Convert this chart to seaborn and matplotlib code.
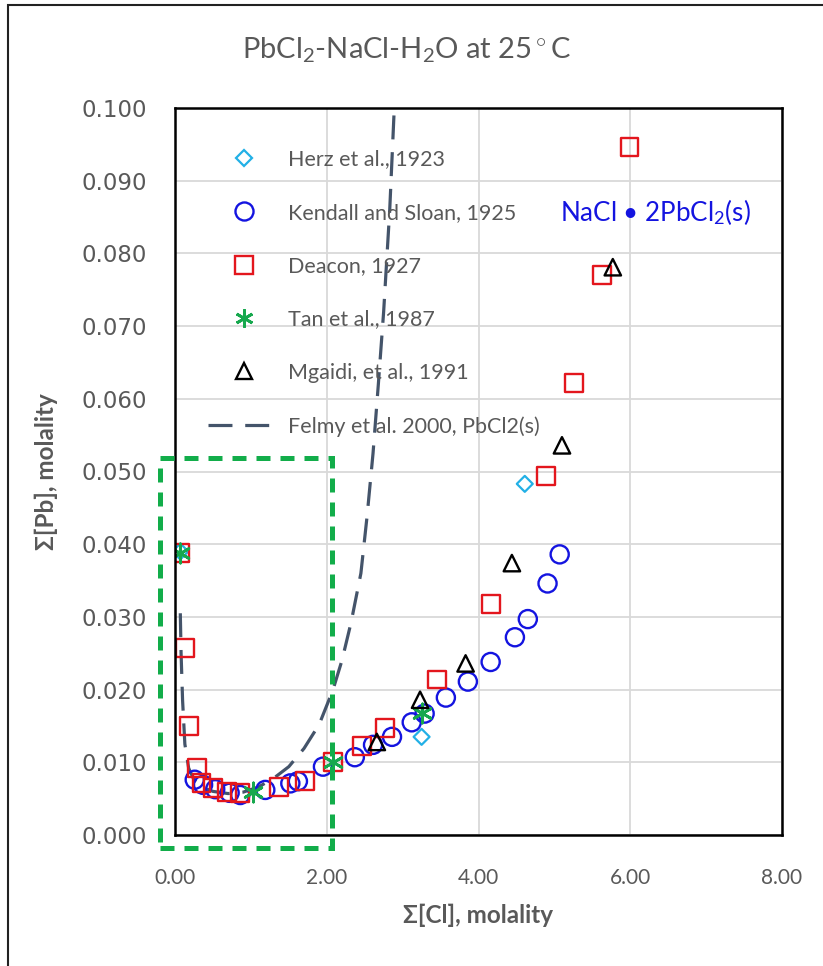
import matplotlib
matplotlib.use("Agg")
import matplotlib.pyplot as plt
from matplotlib.lines import Line2D
from matplotlib.patches import Rectangle
import seaborn as sns

# Solubility of PbCl2 in NaCl solutions at 25 C: total Cl vs total Pb (mol/kg)
herz_cl = [0.07, 3.25, 4.61]
herz_pb = [0.0390, 0.0135, 0.0483]

kendall_cl = [0.26, 0.37, 0.53, 0.72, 0.86, 1.19, 1.52, 1.62, 1.95, 2.37, 2.61,
              2.86, 3.12, 3.29, 3.57, 3.86, 4.16, 4.48, 4.65, 4.91, 5.07]
kendall_pb = [0.0076, 0.0069, 0.0063, 0.0058, 0.0055, 0.0062, 0.0071, 0.0074,
              0.0094, 0.0107, 0.0124, 0.0135, 0.0155, 0.0167, 0.0189, 0.0211,
              0.0238, 0.0272, 0.0297, 0.0346, 0.0386]

deacon_cl = [0.07, 0.13, 0.18, 0.29, 0.35, 0.50, 0.69, 0.86, 1.37, 1.71, 2.08,
             2.46, 2.77, 3.45, 4.16, 4.89, 5.26, 5.63, 5.99]
deacon_pb = [0.0388, 0.0257, 0.0150, 0.0092, 0.0072, 0.0065, 0.0059, 0.0058,
             0.0066, 0.0074, 0.0100, 0.0122, 0.0147, 0.0214, 0.0318, 0.0494,
             0.0622, 0.0770, 0.0946]

tan_cl = [0.07, 1.03, 2.08, 3.25]
tan_pb = [0.0388, 0.0059, 0.0100, 0.0168]

mgaidi_cl = [2.66, 3.23, 3.83, 4.44, 5.10, 5.77]
mgaidi_pb = [0.0128, 0.0186, 0.0236, 0.0374, 0.0536, 0.0781]

# Felmy et al. (2000) model curve, PbCl2(s) saturation
felmy_cl = [0.07, 0.08, 0.10, 0.13, 0.18, 0.25, 0.35, 0.50, 0.70, 0.90, 1.10,
            1.30, 1.50, 1.70, 1.90, 2.08, 2.20, 2.32, 2.45, 2.53, 2.61, 2.68,
            2.75, 2.83, 2.89]
felmy_pb = [0.0305, 0.0250, 0.0185, 0.0125, 0.0092, 0.0076, 0.0066, 0.0060,
            0.0057, 0.0059, 0.0066, 0.0078, 0.0094, 0.0119, 0.0152, 0.0199,
            0.0240, 0.0292, 0.0360, 0.0437, 0.0525, 0.0620, 0.0720, 0.0860,
            0.1000]

series_labels = ["Herz et al., 1923", "Kendall and Sloan, 1925", "Deacon, 1927",
                 "Tan et al., 1987", "Mgaidi, et al., 1991",
                 "Felmy et al. 2000, PbCl2(s)"]

x_ticks = [0, 2, 4, 6, 8]
y_ticks = [0.00, 0.01, 0.02, 0.03, 0.04, 0.05, 0.06, 0.07, 0.08, 0.09, 0.10]

# low-Cl region highlighted by the dashed box
box_cl = (-0.20, 2.07)
box_pb = (-0.0018, 0.0519)

sns.set_theme(style="white")
plt.rcParams["font.family"] = ["Lato", "DejaVu Sans"]
plt.rcParams["mathtext.fontset"] = "custom"
plt.rcParams["mathtext.rm"] = "Lato"
plt.rcParams["mathtext.it"] = "Lato:italic"
plt.rcParams["mathtext.bf"] = "Lato:bold"

GRAY = "#595959"
C_HERZ = "#22B0E6"
C_KEND = "#1414E0"
C_DEAC = "#E3161D"
C_TAN = "#17A84E"
C_MGA = "#000000"
C_FEL = "#44546A"
C_BOX = "#12AD4A"
SANS = ["Lato", "DejaVu Sans"]

fig = plt.figure(figsize=(8.23, 9.66), dpi=100)
ax = fig.add_axes([175 / 823, 1 - 835 / 966, 607 / 823, 727 / 966])

# model curve
sns.lineplot(x=felmy_cl, y=felmy_pb, sort=False, ax=ax, color=C_FEL,
             linewidth=2.3, linestyle=(0, (7.5, 4)), zorder=2, legend=False)

mk = dict(ax=ax, legend=False, zorder=3)
sns.scatterplot(x=herz_cl, y=herz_pb, marker="D", s=66, color=C_HERZ,
                facecolor="none", edgecolor=C_HERZ, linewidth=1.6, **mk)
sns.scatterplot(x=kendall_cl, y=kendall_pb, marker="o", s=170, color=C_KEND,
                facecolor="none", edgecolor=C_KEND, linewidth=1.7, **mk)
sns.scatterplot(x=deacon_cl, y=deacon_pb, marker="s", s=165, color=C_DEAC,
                facecolor="none", edgecolor=C_DEAC, linewidth=1.7, **mk)
sns.scatterplot(x=tan_cl, y=tan_pb, marker=(6, 2, 0), s=190, color=C_TAN,
                linewidth=2.0, **mk)
sns.scatterplot(x=mgaidi_cl, y=mgaidi_pb, marker="^", s=140, color=C_MGA,
                facecolor="none", edgecolor=C_MGA, linewidth=1.7, **mk)

ax.set_xlim(0, 8)
ax.set_ylim(0, 0.1)
ax.set_xticks(x_ticks)
ax.set_yticks(y_ticks)
ax.set_xticklabels([f"{v:.2f}" for v in x_ticks], family=SANS, fontsize=15,
                   color=GRAY)
ax.set_yticklabels([f"{v:.3f}" for v in y_ticks], family="DejaVu Sans",
                   fontsize=16.5, color=GRAY)
ax.tick_params(axis="x", length=0, pad=24)
ax.tick_params(axis="y", length=0, pad=20)
ax.grid(True, color="#D9D9D9", linewidth=1.3)
ax.set_axisbelow(True)
for sp in ax.spines.values():
    sp.set_color("#000000")
    sp.set_linewidth(1.8)
    sp.set_zorder(4)
ax.set_xlabel("")
ax.set_ylabel("")

# dashed highlight box around the low-concentration region
ax.add_patch(Rectangle((box_cl[0], box_pb[0]), box_cl[1] - box_cl[0],
                       box_pb[1] - box_pb[0], fill=False, edgecolor=C_BOX,
                       linewidth=3.6, linestyle=(0, (2.8, 2.0)),
                       clip_on=False, zorder=5))

ax.text(5.07, 0.0857, r"NaCl • 2PbCl$_2$(s)", color=C_KEND, fontsize=18.7,
        ha="left", va="center", family=SANS)

handles = [
    Line2D([], [], linestyle="none", marker="D", markersize=8, mfc="none",
           mec=C_HERZ, mew=1.6),
    Line2D([], [], linestyle="none", marker="o", markersize=13, mfc="none",
           mec=C_KEND, mew=1.7),
    Line2D([], [], linestyle="none", marker="s", markersize=12.5, mfc="none",
           mec=C_DEAC, mew=1.7),
    Line2D([], [], linestyle="none", marker=(6, 2, 0), markersize=13,
           color=C_TAN, mew=2.0),
    Line2D([], [], linestyle="none", marker="^", markersize=11, mfc="none",
           mec=C_MGA, mew=1.7),
    Line2D([], [], color=C_FEL, linewidth=2.3, linestyle=(0, (7.5, 4))),
]
ax.legend(handles, series_labels, loc="upper left",
          bbox_to_anchor=(0.055, 0.943), frameon=False,
          prop={"family": SANS, "size": 15.5},
          labelcolor=GRAY, handlelength=3.3, handletextpad=0.4,
          labelspacing=1.55, borderpad=0, borderaxespad=0)

fig.text(407 / 823, 1 - 50 / 966,
         r"PbCl$_2$-NaCl-H$_2$O at 25$\,^{\circ}\,$C",
         ha="center", va="center", fontsize=21, color=GRAY, family=SANS)
fig.text(478 / 823, 1 - 915 / 966, "Σ[Cl], molality", ha="center",
         va="center", fontsize=17.5, fontweight="bold", color=GRAY, family=SANS)
fig.text(46 / 823, 1 - 472 / 966, "Σ[Pb], molality", ha="center",
         va="center", rotation=90, fontsize=17.5, fontweight="bold", color=GRAY,
         family=SANS)

# chart-area frame
fig.patches.append(Rectangle((8 / 823, -0.02), 1.0, 1.02 - 5 / 966,
                             transform=fig.transFigure, fill=False,
                             edgecolor="#222222", linewidth=1.5))

fig.savefig("out.png", dpi=100, facecolor="white")
